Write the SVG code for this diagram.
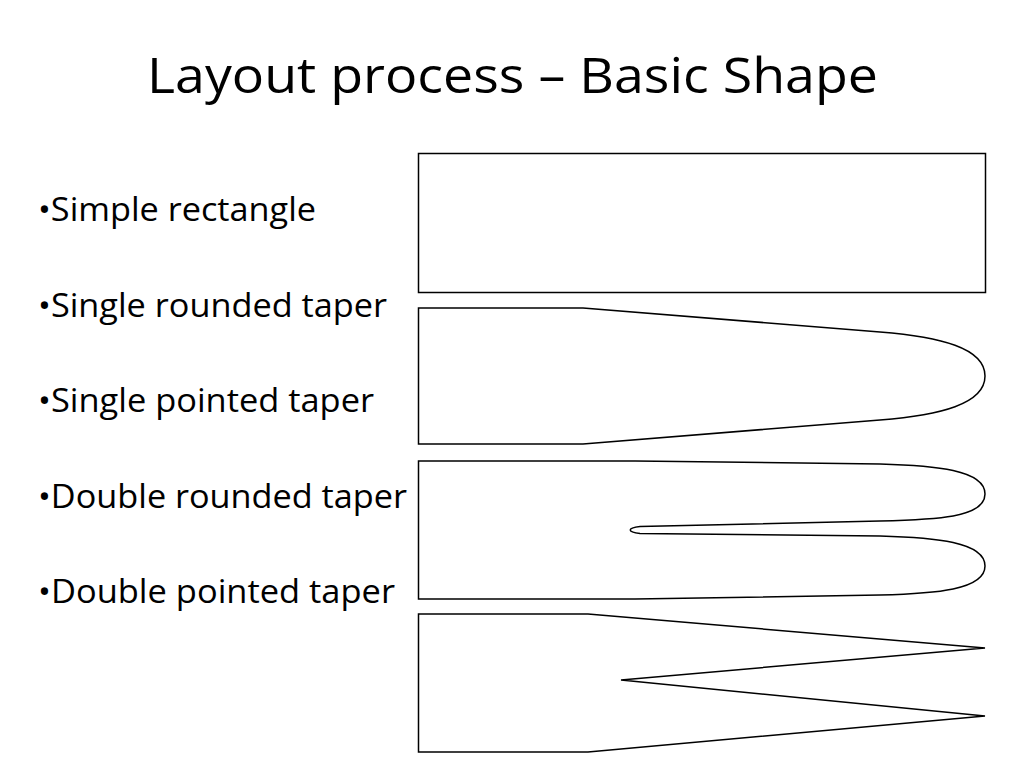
<svg xmlns="http://www.w3.org/2000/svg" width="1024" height="768" viewBox="0 0 1024 768">
<style>
.t{font-family:"Open Sans","Noto Sans",sans-serif;fill:#000}
.b{font-size:32px}
.s{fill:#fff;stroke:#000;stroke-width:1.5;stroke-linejoin:miter}
</style>
<rect width="1024" height="768" fill="#fff"/>
<text id="title" class="t" x="147" y="93" font-size="50" textLength="731" lengthAdjust="spacingAndGlyphs">Layout process – Basic Shape</text>
<g id="list">
<text class="t b" x="38" y="221" textLength="278" lengthAdjust="spacingAndGlyphs">•Simple rectangle</text>
<text class="t b" x="38" y="317" textLength="349" lengthAdjust="spacingAndGlyphs">•Single rounded taper</text>
<text class="t b" x="38" y="412" textLength="336" lengthAdjust="spacingAndGlyphs">•Single pointed taper</text>
<text class="t b" x="38" y="508" textLength="369" lengthAdjust="spacingAndGlyphs">•Double rounded taper</text>
<text class="t b" x="38" y="603" textLength="357" lengthAdjust="spacingAndGlyphs">•Double pointed taper</text>
</g>
<g id="simple-rectangle"><rect class="s" x="418.5" y="153.5" width="567" height="139"/></g>
<g id="single-rounded-taper"><path class="s" d="M418.5,308 H583 L880,332 C940,336.8 985,348 985,376 C985,404 940,415.2 880,420 L583,444 H418.5 Z"/></g>
<g id="double-rounded-taper"><path class="s" d="M418.5,461 H635 L880,464 C935,465.5 985,470 985,494 C985,518 935,519.5 880,521 L640,526.5 C627,528 627,532 640,533.5 L880,536 C935,537.5 985,542 985,566 C985,590 935,593.5 880,595 L635,599 H418.5 Z"/></g>
<g id="double-pointed-taper"><path class="s" d="M418.5,614 H588 L985,648 L621,680 L985,716 L588,752 H418.5 Z"/></g>
<g id="connectors"/>
</svg>
